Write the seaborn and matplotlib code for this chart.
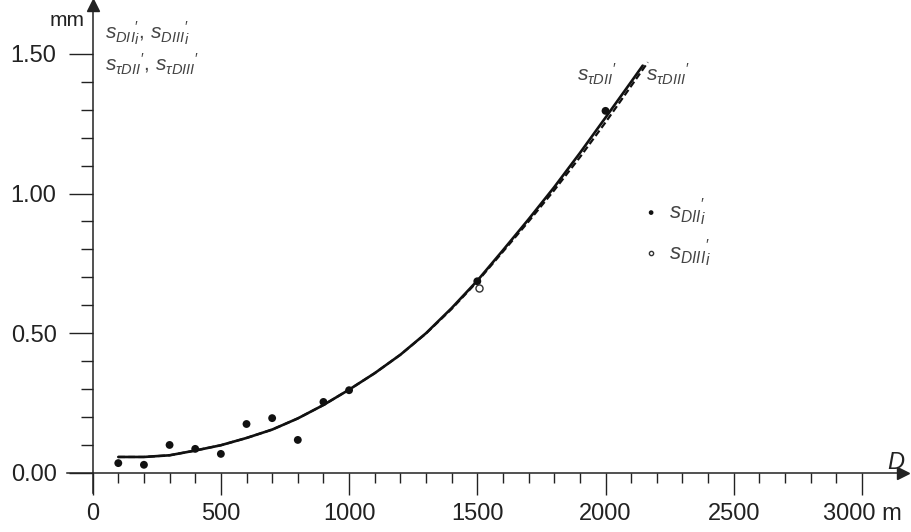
import matplotlib
matplotlib.use("Agg")
import matplotlib.pyplot as plt
import seaborn as sns
from matplotlib.ticker import FixedLocator, FixedFormatter

# ---------------- data ----------------
point_D = [100, 200, 300, 400, 500, 600, 700, 800, 900, 1000, 1500, 2000]
s_DII_i = [0.035, 0.029, 0.100, 0.086, 0.068, 0.175, 0.196, 0.118, 0.254, 0.296, 0.686, 1.296]

open_D = [1508]
s_DIII_i = [0.662]

curve_D = [100, 200, 300, 400, 500, 600, 700, 800, 900, 1000, 1100, 1200, 1300,
           1400, 1500, 1600, 1700, 1800, 1900, 2000, 2100, 2145]
s_tDII = [0.057, 0.057, 0.063, 0.080, 0.099, 0.125, 0.155, 0.195, 0.243, 0.298, 0.357,
          0.423, 0.500, 0.590, 0.688, 0.797, 0.908, 1.023, 1.145, 1.272, 1.400, 1.458]

curve3_D = [100, 200, 300, 400, 500, 600, 700, 800, 900, 1000, 1100, 1200, 1300,
            1400, 1500, 1600, 1700, 1800, 1900, 2000, 2100, 2165]
s_tDIII = [0.057, 0.057, 0.063, 0.080, 0.099, 0.125, 0.155, 0.195, 0.243, 0.298, 0.357,
           0.423, 0.499, 0.587, 0.685, 0.792, 0.900, 1.012, 1.130, 1.255, 1.385, 1.470]

x_major = [0, 500, 1000, 1500, 2000, 2500, 3000]
x_major_labels = ["0", "500", "1000", "1500", "2000", "2500", "3000 m"]
x_minor = [v for v in range(100, 3000, 100) if v % 500 != 0]
y_major = [0.0, 0.5, 1.0, 1.5]
y_major_labels = ["0.00", "0.50", "1.00", "1.50"]
y_minor = [0.1, 0.2, 0.3, 0.4, 0.6, 0.7, 0.8, 0.9, 1.1, 1.2, 1.3, 1.4]

# ---------------- style ----------------
sns.set_theme(style="ticks")
plt.rcParams["font.family"] = ["Liberation Sans", "DejaVu Sans"]
plt.rcParams["mathtext.fontset"] = "custom"
plt.rcParams["mathtext.it"] = "Liberation Sans:italic"
plt.rcParams["mathtext.rm"] = "Liberation Sans"
plt.rcParams["mathtext.sf"] = "Liberation Sans"

INK = "#111111"
GREY = "#444444"
W, H = 911, 532

fig = plt.figure(figsize=(W / 100, H / 100), dpi=100)
ax = fig.add_axes([67 / W, 39 / H, (903 - 67) / W, (527 - 39) / H])

sns.lineplot(x=curve_D, y=s_tDII, ax=ax, color=INK, linewidth=1.9, sort=False)
sns.lineplot(x=curve3_D, y=s_tDIII, ax=ax, color=INK, linewidth=1.6, sort=False,
             linestyle=(0, (3, 1.5)))
sns.scatterplot(x=point_D, y=s_DII_i, ax=ax, color=INK, s=32, edgecolor="none",
                label=r"$s_{DII}{}_{i}^{\prime}$", zorder=5)
sns.scatterplot(x=open_D, y=s_DIII_i, ax=ax, facecolor="white", edgecolor="#333333",
                s=26, linewidth=1.0, label=r"$s_{DIII}{}_{i}^{\prime}$", zorder=6)

ax.set_xlim(-100, 3160)
ax.set_ylim(-0.072, 1.675)

for s in ("top", "right"):
    ax.spines[s].set_visible(False)
ax.spines["left"].set_position(("data", 0))
ax.spines["bottom"].set_position(("data", 0))
for s in ("left", "bottom"):
    ax.spines[s].set_color("#222222")
    ax.spines[s].set_linewidth(1.1)

# arrow heads of the axes
ax.plot(1, 0, ">", transform=ax.get_yaxis_transform(), clip_on=False,
        color="#222222", ms=8)
ax.plot(0, 1, "^", transform=ax.get_xaxis_transform(), clip_on=False,
        color="#222222", ms=8)

ax.xaxis.set_major_locator(FixedLocator(x_major))
ax.xaxis.set_major_formatter(FixedFormatter(x_major_labels))
ax.xaxis.set_minor_locator(FixedLocator(x_minor))
ax.yaxis.set_major_locator(FixedLocator(y_major))
ax.yaxis.set_major_formatter(FixedFormatter(y_major_labels))
ax.yaxis.set_minor_locator(FixedLocator(y_minor))

ax.tick_params(axis="x", which="major", direction="out", length=16, width=1.0,
               pad=6, labelsize=17, colors="#222222", bottom=True)
ax.tick_params(axis="x", which="minor", direction="out", length=7, width=1.0,
               colors="#222222", bottom=True)
ax.tick_params(axis="y", which="major", direction="out", length=17, width=1.0,
               pad=9, labelsize=17, colors="#222222", left=True)
ax.tick_params(axis="y", which="minor", direction="out", length=9, width=1.0,
               colors="#222222", left=True)

# texts
fig.text(50 / W, 1 - 21 / H, "mm", fontsize=15, color="#222222", va="center", ha="left")
fig.text(887 / W, 1 - 463 / H, r"$D$", fontsize=17, color="#222222", va="center", ha="left")
fig.text(105 / W, 1 - 33 / H, r"$s_{DII}{}_{i}^{\prime}$, $s_{DIII}{}_{i}^{\prime}$",
         fontsize=15, color=GREY, va="center", ha="left")
fig.text(105 / W, 1 - 64 / H, r"$s_{\tau DII}{}^{\prime}$, $s_{\tau DIII}{}^{\prime}$",
         fontsize=15, color=GREY, va="center", ha="left")
fig.text(577 / W, 1 - 74 / H, r"$s_{\tau DII}{}^{\prime}$", fontsize=15, color=GREY,
         va="center", ha="left")
fig.text(646 / W, 1 - 74 / H, r"$s_{\tau DIII}{}^{\prime}$", fontsize=15, color=GREY,
         va="center", ha="left")

leg = ax.legend(loc="upper left", bbox_to_anchor=(640 / W, 1 - 196 / H),
                bbox_transform=fig.transFigure, frameon=False, markerscale=0.6,
                handletextpad=0.3, handlelength=1.0, labelspacing=0.4, fontsize=16,
                borderaxespad=0, borderpad=0)
for t in leg.get_texts():
    t.set_color(GREY)

fig.savefig("out.png", dpi=100, facecolor="white")
